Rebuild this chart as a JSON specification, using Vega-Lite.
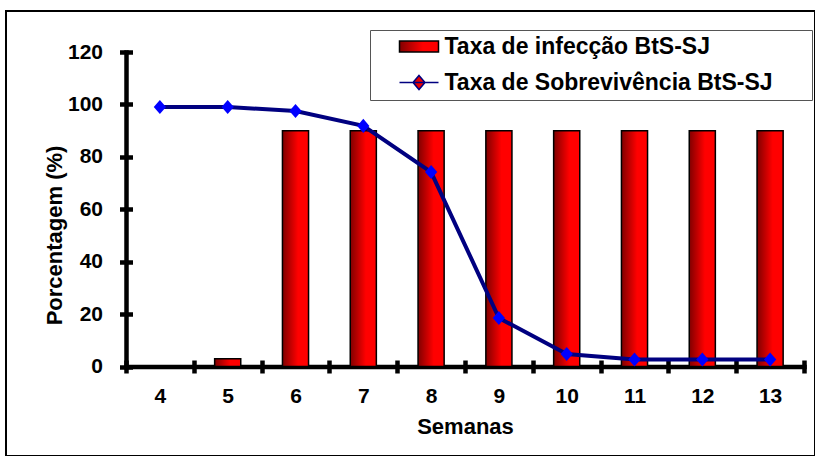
{
  "$schema": "https://vega.github.io/schema/vega-lite/v6.json",
  "width": 809,
  "height": 445,
  "autosize": {"type": "none"},
  "padding": {"left": 6, "top": 11, "right": 0, "bottom": 0},
  "background": "white",
  "config": {
    "view": {"stroke": "black", "strokeWidth": 2},
    "font": "Liberation Sans",
    "axis": {
      "grid": false,
      "labelFont": "Liberation Sans",
      "titleFont": "Liberation Sans",
      "labelFontWeight": "bold",
      "titleFontWeight": "bold",
      "labelColor": "black",
      "titleColor": "black",
      "domainColor": "black",
      "tickColor": "black",
      "domainWidth": 4.5,
      "tickWidth": 4.5,
      "tickSize": 6.5,
      "labelFontSize": 21,
      "titleFontSize": 22,
      "domainCap": "square"
    }
  },
  "data": {
    "values": [
      {"semana": 4, "infeccao": 0, "sobrevivencia": 99},
      {"semana": 5, "infeccao": 3, "sobrevivencia": 99},
      {"semana": 6, "infeccao": 90, "sobrevivencia": 97.5},
      {"semana": 7, "infeccao": 90, "sobrevivencia": 91.8},
      {"semana": 8, "infeccao": 90, "sobrevivencia": 74.2},
      {"semana": 9, "infeccao": 90, "sobrevivencia": 18.5},
      {"semana": 10, "infeccao": 90, "sobrevivencia": 4.8},
      {"semana": 11, "infeccao": 90, "sobrevivencia": 2.7},
      {"semana": 12, "infeccao": 90, "sobrevivencia": 2.7},
      {"semana": 13, "infeccao": 90, "sobrevivencia": 2.7}
    ]
  },
  "layer": [
    {
      "mark": {
        "type": "bar",
        "fill": {
          "x1": 0, "y1": 0, "x2": 1, "y2": 0,
          "gradient": "linear",
          "stops": [
            {"offset": 0, "color": "#800000"},
            {"offset": 0.6, "color": "#ff0000"},
            {"offset": 1, "color": "#ff0000"}
          ]
        },
        "strokeWidth": 1.5,
        "width": {"band": 0.385}
      },
      "encoding": {
        "x": {
          "field": "semana",
          "type": "ordinal",
          "scale": {"range": [120, 798], "paddingInner": 0, "paddingOuter": 0},
          "axis": {
            "orient": "bottom",
            "offset": -89.5,
            "tickBand": "extent",
            "labelAngle": 0,
            "labelPadding": 12,
            "title": "Semanas",
            "titleY": 59.5,
            "titleBaseline": "middle"
          }
        },
        "y": {
          "field": "infeccao",
          "type": "quantitative",
          "scale": {"domain": [0, 120], "range": [355.5, 41], "nice": false},
          "axis": {
            "orient": "left",
            "offset": -120,
            "values": [0, 20, 40, 60, 80, 100, 120],
            "labelPadding": 17,
            "title": "Porcentagem (%)",
            "titleX": -72,
            "titleY": 224,
            "titleBaseline": "middle",
            "titleAngle": -90
          }
        },
        "stroke": {
          "datum": "Taxa de infecção BtS-SJ",
          "type": "nominal",
          "scale": {
            "domain": ["Taxa de infecção BtS-SJ", "Taxa de Sobrevivência BtS-SJ"],
            "range": ["black", "#000080"]
          },
          "legend": {
            "orient": "none",
            "legendX": 364,
            "legendY": 19,
            "title": null,
            "direction": "vertical",
            "padding": 5,
            "symbolSize": 400,
            "symbolOffset": 32.5,
            "labelOffset": 14,
            "rowPadding": 12,
            "labelFontSize": 23,
            "labelFont": "Liberation Sans",
            "labelFontWeight": "bold",
            "labelColor": "black",
            "labelLimit": 500,
            "strokeColor": "#555555",
            "fillColor": "white",
            "symbolType": {"expr": "datum.value === 'Taxa de infecção BtS-SJ' ? 'M-1.95,-0.55H1.95V0.55H-1.95Z' : 'M-1.95,0H1.95M0,-0.7L0.6,0L0,0.7L-0.6,0Z'"},
            "labelExpr": "datum.label + '\u2800\u2800'",
            "encode": {
              "symbols": {
                "update": {
                  "shape": {"signal": "datum.value === 'Taxa de infecção BtS-SJ' ? 'M-1.95,-0.55H1.95V0.55H-1.95Z' : 'M-1.95,0H1.95M0,-0.7L0.6,0L0,0.7L-0.6,0Z'"},
                  "fill": {"signal": "datum.value === 'Taxa de infecção BtS-SJ' ? {gradient: 'linear', x1: 0, y1: 0, x2: 1, y2: 0, stops: [{offset: 0, color: '#800000'}, {offset: 0.6, color: '#ff0000'}, {offset: 1, color: '#ff0000'}]} : '#0000ff'"},
                  "strokeWidth": {"signal": "datum.value === 'Taxa de infecção BtS-SJ' ? 1.5 : 3.5"},
                  "opacity": {"value": 1}
                }
              }
            }
          }
        }
      }
    },
    {
      "mark": {"type": "line", "strokeWidth": 4},
      "encoding": {
        "x": {
          "field": "semana",
          "type": "ordinal",
          "axis": {"orient": "top", "offset": -355.5, "tickBand": "extent", "labels": false, "domain": false, "title": null}
        },
        "y": {
          "field": "sobrevivencia",
          "type": "quantitative",
          "axis": {"orient": "right", "offset": -689, "values": [0, 20, 40, 60, 80, 100, 120], "labels": false, "domain": false, "title": null}
        },
        "stroke": {"datum": "Taxa de Sobrevivência BtS-SJ", "type": "nominal"}
      }
    },
    {
      "mark": {"type": "point", "shape": "M0,-1.15L1,0L0,1.15L-1,0Z", "filled": true, "color": "#0000ff", "opacity": 1, "size": 150},
      "encoding": {
        "x": {"field": "semana", "type": "ordinal", "axis": null},
        "y": {"field": "sobrevivencia", "type": "quantitative", "axis": null}
      }
    }
  ],
  "resolve": {"axis": {"x": "independent", "y": "independent"}}
}
